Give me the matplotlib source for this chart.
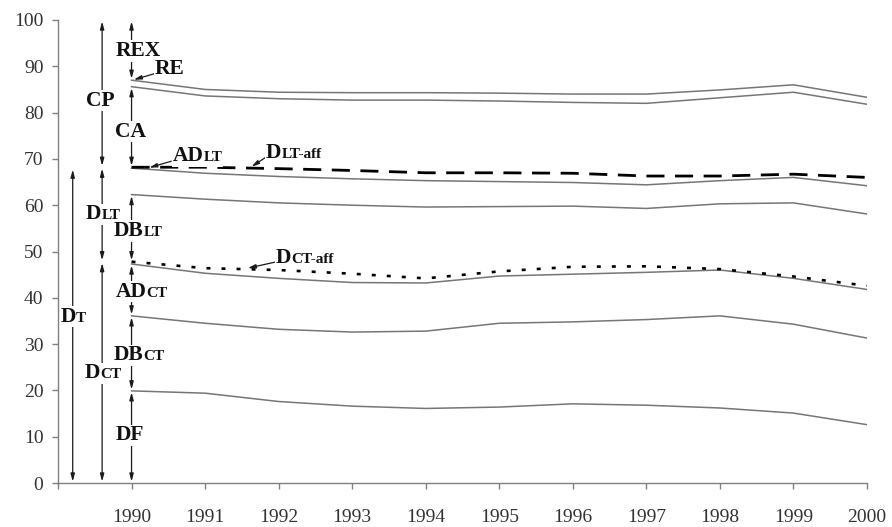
import matplotlib
matplotlib.use("Agg")
import matplotlib.pyplot as plt
from matplotlib.offsetbox import TextArea, HPacker, AnnotationBbox

years = list(range(1990, 2001))

# stacked series (cumulative levels)
df_top     = [19.9, 19.4, 17.6, 16.6, 16.1, 16.4, 17.1, 16.8, 16.2, 15.1, 12.6]
dbct_top   = [36.1, 34.5, 33.2, 32.6, 32.8, 34.5, 34.8, 35.3, 36.1, 34.3, 31.3]
dct        = [47.3, 45.3, 44.2, 43.3, 43.2, 44.7, 45.1, 45.5, 46.0, 44.2, 41.8]
dct_aff    = [47.8, 46.4, 46.0, 45.2, 44.2, 45.7, 46.7, 46.8, 46.2, 44.6, 42.6]
dblt_top   = [62.3, 61.3, 60.5, 60.0, 59.6, 59.7, 59.8, 59.3, 60.3, 60.5, 58.1]
dlt        = [68.0, 66.9, 66.2, 65.7, 65.3, 65.1, 64.9, 64.4, 65.3, 66.0, 64.2]
dlt_aff    = [68.2, 68.2, 67.9, 67.5, 67.0, 67.0, 66.9, 66.3, 66.3, 66.7, 66.0]
ca_top     = [85.6, 83.6, 83.0, 82.7, 82.7, 82.5, 82.2, 82.0, 83.2, 84.4, 81.8]
re_top     = [87.0, 85.0, 84.4, 84.3, 84.3, 84.2, 84.0, 84.0, 84.9, 86.0, 83.3]

year_ticks = list(range(1989, 2001))
year_labels = [""] + [str(y) for y in range(1990, 2001)]
y_ticks = list(range(0, 101, 10))

SERIF = ["Liberation Serif", "DejaVu Serif"]
GREY = "#767676"

fig = plt.figure(figsize=(8.92, 5.27), dpi=100)
ax = fig.add_axes([58 / 892, 1 - 483 / 527, (867 - 58) / 892, (483 - 20) / 527])
ax.set_xlim(1989, 2000)
ax.set_ylim(0, 100)

for s in ("top", "right"):
    ax.spines[s].set_visible(False)
for s in ("left", "bottom"):
    ax.spines[s].set_color("#808080")
    ax.spines[s].set_linewidth(1.0)

ax.set_xticks(year_ticks)
ax.set_xticklabels(year_labels)
ax.set_yticks(y_ticks)
ax.tick_params(direction="out", length=4.5, width=1.0, color="#808080",
               labelsize=14, labelcolor="#333333")
ax.tick_params(axis="x", pad=14)
ax.tick_params(axis="y", pad=6)
for lab in ax.get_xticklabels() + ax.get_yticklabels():
    lab.set_fontfamily(SERIF)

# solid boundaries
for series in (df_top, dbct_top, dct, dblt_top, dlt, ca_top, re_top):
    ax.plot(years, series, color=GREY, lw=1.1, solid_joinstyle="miter", zorder=3)

# affected totals
ax.plot(years, dlt_aff, color="black", lw=2.0, dashes=(6.5, 3.8),
        dash_capstyle="butt", zorder=4)
ax.plot(years, dct_aff, color="black", lw=1.9, dashes=(1.5, 4.2),
        dash_capstyle="butt", zorder=4)


def span(x, y0, y1):
    ax.annotate("", xy=(x, y1), xytext=(x, y0),
                arrowprops=dict(arrowstyle="<|-|>,head_length=0.45,head_width=0.12",
                                color="#1a1a1a", lw=0.9, shrinkA=1, shrinkB=1),
                zorder=5)


def leader(x0, y0, x1, y1):
    ax.annotate("", xy=(x1, y1), xytext=(x0, y0),
                arrowprops=dict(arrowstyle="-|>,head_length=0.45,head_width=0.12",
                                color="#1a1a1a", lw=0.9, shrinkA=0, shrinkB=0),
                zorder=6)


def label(x, y, main, sub="", align=(0.0, 0.5), size=15.5, subsize=11):
    parts = [TextArea(main, textprops=dict(family=SERIF, weight="bold",
                                           size=size, color="#111111"))]
    if sub:
        parts.append(TextArea(sub, textprops=dict(family=SERIF, weight="bold",
                                                  size=subsize, color="#111111")))
    box = HPacker(children=parts, align="baseline", pad=0, sep=0)
    ab = AnnotationBbox(box, (x, y), xycoords="data", box_alignment=align,
                        frameon=True, pad=0.05,
                        bboxprops=dict(fc="white", ec="none"))
    ab.set_zorder(7)
    ax.add_artist(ab)


# column at 1990: decomposition of each block
x0 = years[0]
span(x0, 100, re_top[0])
span(x0, ca_top[0], dlt_aff[0])
span(x0, dblt_top[0], dct_aff[0])
span(x0, dct[0], dbct_top[0])
span(x0, dbct_top[0], df_top[0])
span(x0, df_top[0], 0)

# column of the long / short term split
xb = 1989.6
span(xb, 100, dlt_aff[0])
span(xb, dlt_aff[0], dct_aff[0])
span(xb, dct_aff[0], 0)

# total debt
xc = 1989.2
span(xc, 0, dlt[0])

# labels
label(1989.78, 93.3, "REX")
label(1990.32, 89.4, "RE")
leader(1990.31, 88.4, 1990.03, 87.1)
label(1989.38, 82.6, "CP")
label(1989.78, 75.9, "CA")
label(1990.56, 70.6, "AD", "LT")
leader(1990.54, 69.5, 1990.24, 68.1)
label(1991.83, 71.3, "D", "LT-aff")
leader(1991.83, 70.4, 1991.63, 68.3)
label(1989.38, 58.0, "D", "LT")
label(1989.76, 54.4, "DB", "LT")
label(1991.96, 48.6, "D", "CT-aff")
leader(1991.95, 47.7, 1991.58, 46.4)
label(1989.78, 41.3, "AD", "CT")
label(1989.03, 35.9, "D", "T")
label(1989.76, 27.6, "DB", "CT")
label(1989.36, 23.7, "D", "CT")
label(1989.78, 10.3, "DF")

fig.savefig("out.png", dpi=100, facecolor="white")
